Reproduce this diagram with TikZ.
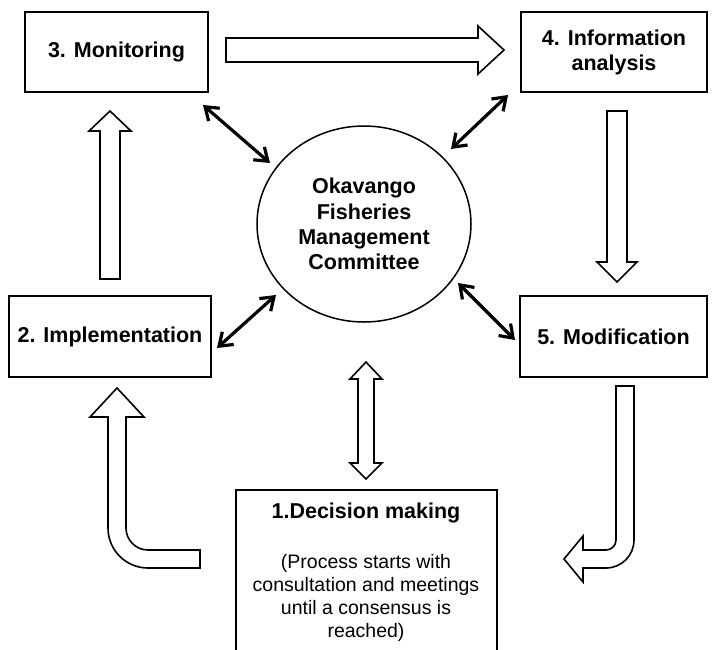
\documentclass[tikz,border=0pt]{standalone}
\usepackage{fontspec}
\setmainfont{Liberation Sans}
\usetikzlibrary{arrows.meta,shapes.geometric}
\begin{document}
\begin{tikzpicture}[x=1pt,y=-1pt,
  box/.style={draw, line width=1.8pt, inner sep=0pt, font=\fontsize{21.5}{25}\selectfont\bfseries, align=center},
  blk/.style={draw, line width=1.6pt, fill=white, line join=miter},
  dbl/.style={line width=3.2pt, {Straight Barb[length=12pt,width=17pt]}-{Straight Barb[length=12pt,width=17pt]}}]
\useasboundingbox (0,0) rectangle (712,649);
\clip (0,0) rectangle (712,649);
\fill[white] (0,0) rectangle (712,649);

% boxes
\node[box, minimum width=183pt, minimum height=80pt] (b3) at (116.5,52) {3. Monitoring};
\node[box, minimum width=186pt, minimum height=80pt] (b4) at (614,52) {4. Information\\analysis};
\node[box, minimum width=202pt, minimum height=81pt] (b2) at (110,336.5) {2. Implementation};
\node[box, minimum width=187pt, minimum height=81pt] (b5) at (613.5,336.5) {5. Modification};
\node[box, minimum width=261pt, minimum height=180pt] (b1) at (366.5,580) {};
\node[font=\fontsize{21.5}{25}\selectfont\bfseries, inner sep=0pt] (t1) at (366,513) {1.Decision making};
\node[font=\fontsize{19.5}{23}\selectfont, align=center, inner sep=0pt] (t1b) at (366,597.5) {(Process starts with\\consultation and meetings\\until a consensus is\\reached)};

% centre ellipse
\node[draw, ellipse, line width=1.5pt, minimum width=214pt, minimum height=196pt, inner sep=0pt,
      font=\fontsize{21.5}{25.3}\selectfont\bfseries, align=center] (cc) at (364,224)
      {Okavango\\Fisheries\\Management\\Committee};

% thin double arrows
\coordinate (p3a) at (203,105); \coordinate (p3b) at (270,163);
\coordinate (p4a) at (508,95);  \coordinate (p4b) at (451,149);
\coordinate (p2a) at (217,348); \coordinate (p2b) at (276,295);
\coordinate (p5a) at (458,283); \coordinate (p5b) at (515,340);
\draw[dbl] (p3a) -- (p3b);
\draw[dbl] (p4a) -- (p4b);
\draw[dbl] (p2a) -- (p2b);
\draw[dbl] (p5a) -- (p5b);

% block arrows
% 3 -> 4
\draw[blk] (226,38) -- (478,38) -- (478,26) -- (504,50) -- (478,74) -- (478,62) -- (226,62) -- cycle;
% 4 -> 5
\draw[blk] (607,111) -- (627,111) -- (627,262) -- (637,262) -- (617,282) -- (597,262) -- (607,262) -- cycle;
% 2 -> 3
\draw[blk] (100,279) -- (100,131) -- (89,131) -- (110,111) -- (131,131) -- (120,131) -- (120,279) -- cycle;
% centre <-> 1
\draw[blk] (366,362) -- (382,379) -- (374,379) -- (374,463) -- (382,463) -- (366,479) -- (350,463) -- (358,463) -- (358,379) -- (350,379) -- cycle;
% 1 -> 2 (bent)
\draw[blk] (200,550) -- (148,550) .. controls (135.85,550) and (126,540.15) .. (126,528) -- (126,417) -- (144,417) -- (117,388) -- (90,417) -- (108,417) -- (108,528) .. controls (108,550.1) and (125.9,568) .. (148,568) -- (200,568) -- cycle;
% 5 -> 1 (bent)
\draw[blk] (616,386) -- (634,386) -- (634,540) .. controls (634,555.5) and (621.5,568) .. (606,568) -- (583,568) -- (583,582) -- (564,559) -- (583,536) -- (583,550) -- (606,550) .. controls (611.5,550) and (616,545.5) .. (616,540) -- cycle;
\end{tikzpicture}
\end{document}
